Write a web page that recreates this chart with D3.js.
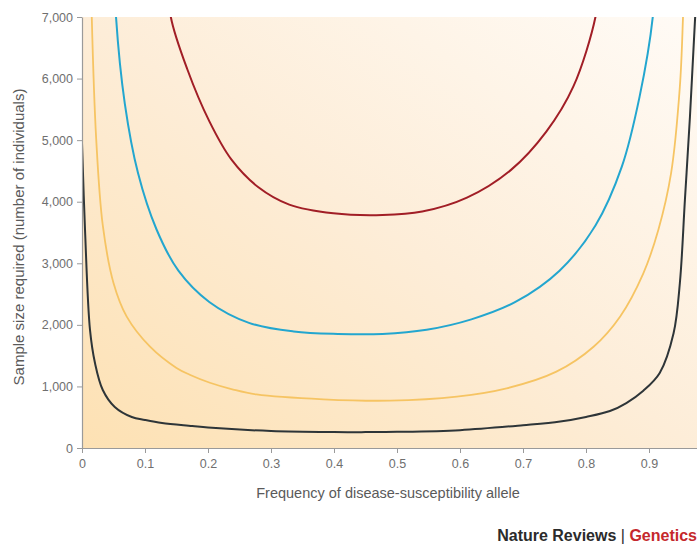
<!DOCTYPE html>
<html><head><meta charset="utf-8">
<script src="https://cdn.jsdelivr.net/npm/d3@7"></script>
<style>html,body{margin:0;padding:0;background:#fff;overflow:hidden}svg{display:block}</style>
</head><body>
<svg id="c" width="697" height="545"></svg>
<script>
// Data (allele frequency p, sample size)
const blackP = [0.000,0.0048,0.0127,0.0206,0.033,0.052,0.079,0.100,0.127,0.175,0.200,0.300,0.400,0.450,0.500,0.600,0.700,0.759,0.800,0.838,0.864,0.891,0.917,0.939,0.949,0.957,0.965,0.973,0.977];
const blackN = [4950,3540,1917,1380,942,666,503,455,406,357,332,275,258,258,262,290,370,430,505,600,730,930,1218,1863,2680,4030,5380,6950,7600];
const yellowP = [0.0145,0.0155,0.0225,0.033,0.050,0.071,0.108,0.150,0.171,0.203,0.240,0.277,0.383,0.489,0.595,0.674,0.753,0.812,0.854,0.891,0.915,0.935,0.949,0.954,0.956];
const yellowN = [7600,7000,5025,3614,2680,2133,1645,1300,1190,1060,950,870,791,769,834,969,1240,1645,2133,2837,3550,4461,5872,7000,7600];
const blueP = [0.052,0.054,0.068,0.089,0.118,0.153,0.202,0.265,0.336,0.406,0.477,0.547,0.618,0.688,0.758,0.815,0.857,0.885,0.906,0.909];
const blueN = [7600,7000,5590,4461,3557,2880,2372,2033,1892,1852,1852,1920,2089,2372,2880,3614,4574,5703,7000,7600];
const redP = [0.137,0.141,0.167,0.202,0.237,0.280,0.329,0.399,0.477,0.540,0.611,0.681,0.737,0.780,0.815,0.819];
const redN = [7600,7000,6155,5308,4687,4235,3953,3811,3783,3840,4066,4517,5138,5872,7000,7400];
const xTicks = [0,0.1,0.2,0.3,0.4,0.5,0.6,0.7,0.8,0.9];
const yTicks = [0,1000,2000,3000,4000,5000,6000,7000];
const series = [
  {name:"black", p:blackP, n:blackN, color:"#2e3538", w:2},
  {name:"yellow", p:yellowP, n:yellowN, color:"#f6c463", w:1.8},
  {name:"blue", p:blueP, n:blueN, color:"#23a6cf", w:2},
  {name:"red", p:redP, n:redN, color:"#a11e26", w:2}
];

const svg = d3.select("#c");
const mL = 82, mR = 697, mT = 17, mB = 448;
const x = d3.scaleLinear().domain([0,1]).range([mL, mL + 630]);
const y = d3.scaleLinear().domain([0,7000]).range([mB, mT]);

const defs = svg.append("defs");
const g = defs.append("linearGradient").attr("id","bg").attr("x1","0").attr("y1","1").attr("x2","1").attr("y2","0");
g.append("stop").attr("offset","0").attr("stop-color","#fde1b3");
g.append("stop").attr("offset","0.5").attr("stop-color","#fdedd8");
g.append("stop").attr("offset","1").attr("stop-color","#fffbf6");
defs.append("clipPath").attr("id","clip").append("rect")
  .attr("x",mL).attr("y",mT).attr("width",mR-mL).attr("height",mB-mT);

svg.append("rect").attr("x",mL).attr("y",mT).attr("width",mR-mL).attr("height",mB-mT).attr("fill","url(#bg)");

const line = d3.line().x(d=>x(d[0])).y(d=>y(d[1])).curve(d3.curveCatmullRom.alpha(0.5));
const plot = svg.append("g").attr("clip-path","url(#clip)");
series.forEach(s=>{
  plot.append("path").datum(s.p.map((p,i)=>[p,s.n[i]]))
    .attr("d",line).attr("fill","none").attr("stroke",s.color).attr("stroke-width",s.w)
    .attr("stroke-linejoin","round");
});

const font = "'Liberation Sans', Arial, Helvetica, sans-serif";
const yAxis = svg.append("g").attr("transform",`translate(${mL},0)`)
  .call(d3.axisLeft(y).tickValues(yTicks).tickSize(5).tickSizeOuter(0).tickFormat(d3.format(",")));
const xAxis = svg.append("g").attr("transform",`translate(0,${mB})`)
  .call(d3.axisBottom(x).tickValues(xTicks).tickSize(5).tickSizeOuter(0).tickFormat(d=>d===0?"0":d3.format(".1f")(d)));
[yAxis,xAxis].forEach(a=>{
  a.select(".domain").attr("stroke","#9a9a9a").attr("stroke-width",1.2);
  a.selectAll(".tick line").attr("stroke","#9a9a9a");
  a.selectAll(".tick text").attr("fill","#6f6f6f").attr("font-family",font).attr("font-size",12.5);
});
xAxis.select(".domain").attr("d",`M${mL},0.5H${mR}`);
yAxis.selectAll(".tick text").attr("x",-9);
xAxis.selectAll(".tick text").attr("y",11);

svg.append("text").attr("x",388).attr("y",498).attr("text-anchor","middle")
  .attr("font-family",font).attr("font-size",14.5).attr("fill","#5a5a5a")
  .text("Frequency of disease-susceptibility allele");
svg.append("text").attr("transform","translate(24,237) rotate(-90)").attr("text-anchor","middle")
  .attr("font-family",font).attr("font-size",15).attr("fill","#5a5a5a")
  .text("Sample size required (number of individuals)");

const ft = svg.append("text").attr("x",697).attr("y",541).attr("text-anchor","end")
  .attr("font-family",font).attr("font-size",16).attr("font-weight","bold");
ft.append("tspan").attr("fill","#2b2b2b").text("Nature Reviews ");
ft.append("tspan").attr("fill","#2b2b2b").attr("font-weight","normal").text("| ");
ft.append("tspan").attr("fill","#c5282c").text("Genetics");
</script>
</body></html>
